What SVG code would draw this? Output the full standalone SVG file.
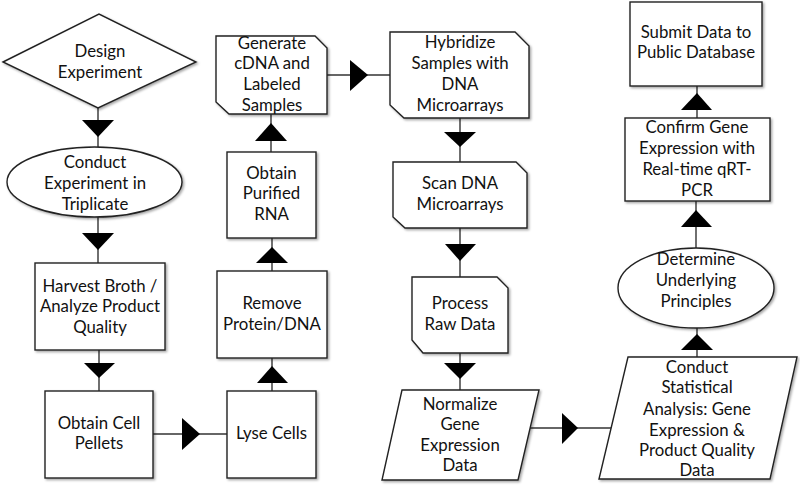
<svg xmlns="http://www.w3.org/2000/svg" width="800" height="486" viewBox="0 0 800 486">
<defs>
<filter id="sh" x="-10%" y="-10%" width="130%" height="130%">
<feDropShadow dx="1.5" dy="1.5" stdDeviation="0.8" flood-color="#000" flood-opacity="0.35"/>
</filter>
<style>
.n{fill:#fff;stroke:#222;stroke-width:1.4;filter:url(#sh)}
.t{font-family:Lato,"Liberation Sans",sans-serif;font-size:16.8px;fill:#111;text-anchor:middle}
.c line{stroke:#333;stroke-width:1.4}
.c polygon{fill:#000}
</style>
</defs>
<rect width="800" height="486" fill="#fff"/>
<g class="c" id="connectors">
<line x1="98" y1="108" x2="98" y2="147"/><polygon points="82,120 114,120 98,137"/>
<line x1="98" y1="217" x2="98" y2="263"/><polygon points="82,233 114,233 98,250"/>
<line x1="99" y1="350" x2="99" y2="391"/><polygon points="84,363 115,363 99,378"/>
<line x1="153" y1="434" x2="227" y2="434"/><polygon points="182,418 182,450 200,434"/>
<line x1="272" y1="391" x2="272" y2="358"/><polygon points="257,383 288,383 272,366"/>
<line x1="272" y1="271" x2="272" y2="238"/><polygon points="256,263 288,263 272,247"/>
<line x1="271" y1="152" x2="271" y2="114"/><polygon points="255,141 287,141 271,123"/>
<line x1="327" y1="75" x2="390" y2="75"/><polygon points="350,60 350,91 368,75"/>
<line x1="460" y1="118" x2="460" y2="162"/><polygon points="444,132 476,132 460,147"/>
<line x1="460" y1="228" x2="460" y2="277"/><polygon points="445,244 476,244 460,261"/>
<line x1="460" y1="353" x2="460" y2="390"/><polygon points="444,363 476,363 460,379"/>
<line x1="530" y1="428" x2="612" y2="428"/><polygon points="562,413 562,444 578,428"/>
<line x1="697" y1="357" x2="697" y2="328"/><polygon points="681,350 713,350 697,334"/>
<line x1="696" y1="248" x2="696" y2="201"/><polygon points="681,227 712,227 696,210"/>
<line x1="697" y1="118" x2="697" y2="86"/><polygon points="681,110 712,110 697,93"/>
</g>
<g id="design">
<polygon class="n" points="3,62 99,14 196,62 98,108"/>
<text class="t" x="100" y="57">Design</text>
<text class="t" x="100" y="78">Experiment</text>
</g>
<g id="conduct">
<ellipse class="n" cx="94.5" cy="182" rx="87.5" ry="35"/>
<text class="t" x="95" y="168">Conduct</text>
<text class="t" x="95" y="189">Experiment in</text>
<text class="t" x="95" y="210">Triplicate</text>
</g>
<g id="harvest">
<rect class="n" x="35" y="263" width="130" height="87"/>
<text class="t" x="100" y="292">Harvest Broth /</text>
<text class="t" x="100" y="312">Analyze Product</text>
<text class="t" x="100" y="333">Quality</text>
</g>
<g id="pellets">
<rect class="n" x="45" y="391" width="108" height="87"/>
<text class="t" x="99" y="429">Obtain Cell</text>
<text class="t" x="99" y="449">Pellets</text>
</g>
<g id="lyse">
<rect class="n" x="227" y="391" width="89" height="87"/>
<text class="t" x="271.5" y="439">Lyse Cells</text>
</g>
<g id="remove">
<rect class="n" x="217" y="271" width="110" height="87"/>
<text class="t" x="272" y="309">Remove</text>
<text class="t" x="272" y="330">Protein/DNA</text>
</g>
<g id="rna">
<rect class="n" x="227" y="152" width="89" height="86"/>
<text class="t" x="271.5" y="179">Obtain</text>
<text class="t" x="271.5" y="199">Purified</text>
<text class="t" x="271.5" y="220">RNA</text>
</g>
<g id="generate">
<polygon class="n" points="216,36 315,36 327,48 327,114 229,114 216,102"/>
<text class="t" x="272" y="49">Generate</text>
<text class="t" x="272" y="69">cDNA and</text>
<text class="t" x="272" y="90">Labeled</text>
<text class="t" x="272" y="111">Samples</text>
</g>
<g id="hybridize">
<polygon class="n" points="390,32 515,32 529,46 529,118 404,118 390,105"/>
<text class="t" x="460" y="48">Hybridize</text>
<text class="t" x="460" y="69">Samples with</text>
<text class="t" x="460" y="90">DNA</text>
<text class="t" x="460" y="111">Microarrays</text>
</g>
<g id="scan">
<polygon class="n" points="393,162 516,162 527,173 527,228 405,228 393,217"/>
<text class="t" x="460" y="189">Scan DNA</text>
<text class="t" x="460" y="210">Microarrays</text>
</g>
<g id="process">
<polygon class="n" points="412,277 497,277 508,288 508,353 423,353 412,340"/>
<text class="t" x="460" y="309">Process</text>
<text class="t" x="460" y="330">Raw Data</text>
</g>
<g id="normalize">
<polygon class="n" points="402,390 539,390 518,480 382,480"/>
<text class="t" x="460" y="410">Normalize</text>
<text class="t" x="460" y="430">Gene</text>
<text class="t" x="460" y="451">Expression</text>
<text class="t" x="460" y="471">Data</text>
</g>
<g id="statistical">
<polygon class="n" points="628,357 797,357 770,479 599,479"/>
<text class="t" x="697" y="373">Conduct</text>
<text class="t" x="697" y="393">Statistical</text>
<text class="t" x="697" y="415">Analysis: Gene</text>
<text class="t" x="697" y="436">Expression &amp;</text>
<text class="t" x="697" y="456">Product Quality</text>
<text class="t" x="697" y="476">Data</text>
</g>
<g id="determine">
<ellipse class="n" cx="696" cy="288" rx="78" ry="40"/>
<text class="t" x="696" y="265">Determine</text>
<text class="t" x="696" y="286">Underlying</text>
<text class="t" x="696" y="307">Principles</text>
</g>
<g id="confirm">
<rect class="n" x="625" y="118" width="145" height="83"/>
<text class="t" x="697" y="133">Confirm Gene</text>
<text class="t" x="697" y="154">Expression with</text>
<text class="t" x="697" y="175">Real-time qRT-</text>
<text class="t" x="697" y="196">PCR</text>
</g>
<g id="submit">
<rect class="n" x="630" y="2" width="132" height="84"/>
<text class="t" x="696" y="38">Submit Data to</text>
<text class="t" x="696" y="58">Public Database</text>
</g>
</svg>
